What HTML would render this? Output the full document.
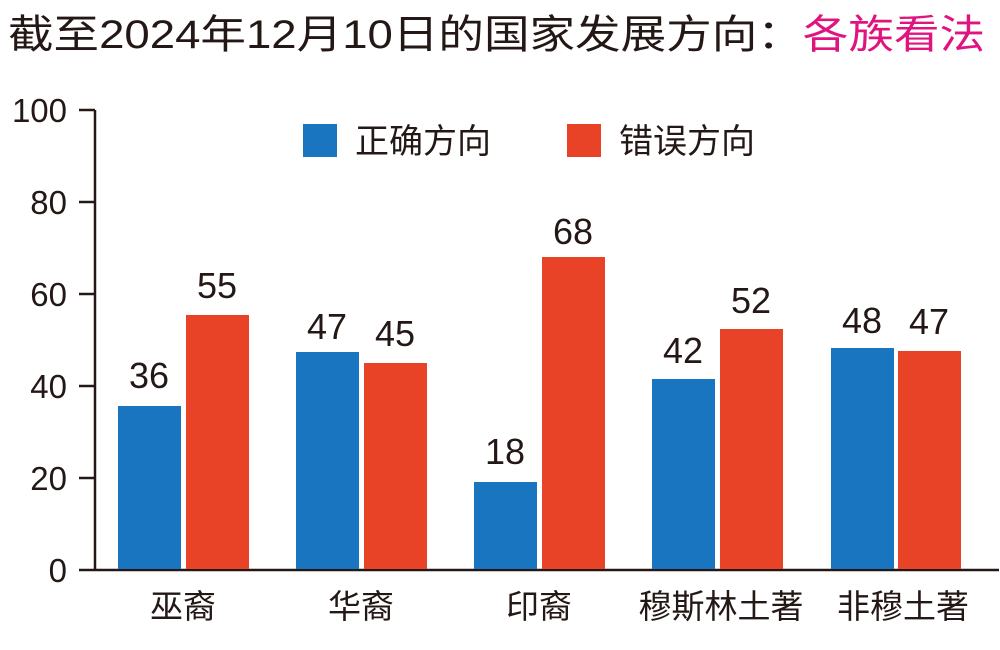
<!DOCTYPE html>
<html><head><meta charset="utf-8"><style>
body{margin:0;background:#fff;}
text{font-family:"Liberation Sans","Noto Sans CJK SC",sans-serif;fill:#231815;}
</style></head><body>
<svg width="1000" height="645" xmlns="http://www.w3.org/2000/svg">
<text x="8" y="48" font-size="40" textLength="977" lengthAdjust="spacingAndGlyphs">截至2024年12月10日的国家发展方向：<tspan style="fill:#e0147f">各族看法</tspan></text>
<g font-size="33" text-anchor="end">
<text x="67" y="122">100</text><text x="67" y="214">80</text><text x="67" y="306">60</text>
<text x="67" y="398">40</text><text x="67" y="490">20</text><text x="67" y="582">0</text>
</g>
<g stroke="#231815" stroke-width="2.5">
<line x1="95" y1="110" x2="95" y2="570"/>
<line x1="95" y1="570" x2="999" y2="570"/>
<line x1="79" y1="110" x2="95" y2="110"/><line x1="79" y1="202" x2="95" y2="202"/>
<line x1="79" y1="294" x2="95" y2="294"/><line x1="79" y1="386" x2="95" y2="386"/>
<line x1="79" y1="478" x2="95" y2="478"/><line x1="79" y1="570" x2="95" y2="570"/>
</g>
<g fill="#1a75c0">
<rect x="118" y="406" width="63" height="163"/>
<rect x="296" y="352" width="63" height="217"/>
<rect x="474" y="482" width="63" height="87"/>
<rect x="652" y="379" width="63" height="190"/>
<rect x="831" y="348" width="63" height="221"/>
<rect x="303" y="124" width="34" height="33"/>
</g>
<g fill="#e84326">
<rect x="186" y="315" width="63" height="254"/>
<rect x="364" y="363" width="63" height="206"/>
<rect x="542" y="257" width="63" height="312"/>
<rect x="720" y="329" width="63" height="240"/>
<rect x="898" y="351" width="63" height="218"/>
<rect x="567" y="124" width="34" height="33"/>
</g>
<g font-size="34"><text x="355" y="153">正确方向</text><text x="619" y="153">错误方向</text></g>
<g font-size="36" text-anchor="middle">
<text x="149" y="388">36</text><text x="217" y="298">55</text>
<text x="327" y="339">47</text><text x="395" y="346">45</text>
<text x="505" y="464">18</text><text x="573" y="244">68</text>
<text x="683" y="363">42</text><text x="751" y="313">52</text>
<text x="862" y="333">48</text><text x="929" y="334">47</text>
</g>
<g font-size="33" text-anchor="middle">
<text x="183" y="618">巫裔</text><text x="361" y="618">华裔</text>
<text x="539" y="618">印裔</text><text x="721" y="618">穆斯林土著</text>
<text x="903" y="618">非穆土著</text>
</g>
</svg>
</body></html>
